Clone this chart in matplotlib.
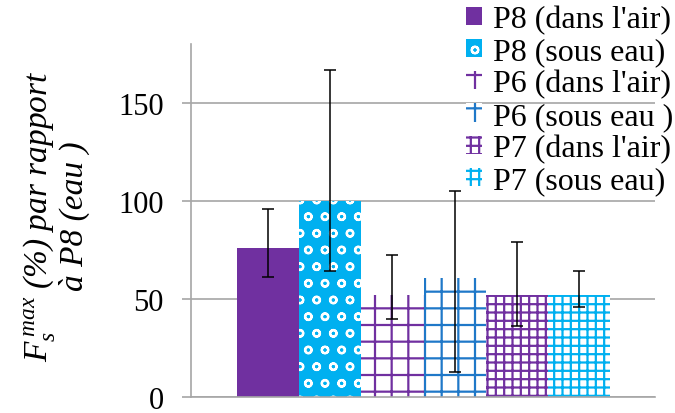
import matplotlib.pyplot as plt
import numpy as np

# ---- data ----
labels = ["P8 (dans l'air)", "P8 (sous eau)", "P6 (dans l'air)",
          "P6 (sous eau )", "P7 (dans l'air)", "P7 (sous eau)"]
values = [76, 100, 52, 60.5, 52, 52]
err_low = [14.5, 35.5, 12, 47.5, 16, 6]
err_high = [20, 67, 20.5, 44.5, 27, 12.5]

face_colors = ['#7030A0', '#00B0F0', 'white', 'white', 'white', 'white']
hatch_colors = ['#7030A0', 'white', '#7030A0', '#1F78C8', '#7030A0', '#00B0F0']
hatches = [None, 'o', '+', '+', '++', '++']

plt.rcParams['font.family'] = ['Liberation Serif', 'DejaVu Serif']
plt.rcParams['mathtext.fontset'] = 'custom'
plt.rcParams['mathtext.rm'] = 'Liberation Serif'
plt.rcParams['mathtext.it'] = 'Liberation Serif:italic'
plt.rcParams['hatch.linewidth'] = 1.6

fig = plt.figure(figsize=(6.75, 4.14), dpi=100)
ax = fig.add_axes([0.283, 0.0386, 0.687, 0.852])

x = np.arange(len(values))
for i in range(len(values)):
    ax.bar(x[i], values[i], width=1.0, color=face_colors[i], edgecolor=hatch_colors[i],
           hatch=hatches[i], linewidth=0, label=labels[i], zorder=2)

ax.errorbar(x, values, yerr=[err_low, err_high], fmt='none', ecolor='black',
            elinewidth=1.1, capsize=4.5, capthick=1.1, zorder=3)

ax.set_xlim(-1.24, 6.22)
ax.set_ylim(0, 180)
ax.set_yticks([0, 50, 100, 150])
ax.set_xticks([])
ax.grid(axis='y', color='#A6A6A6', linewidth=1.2, zorder=0)
for s in ['top', 'right']:
    ax.spines[s].set_visible(False)
ax.spines['left'].set_color('#A6A6A6')
ax.spines['bottom'].set_color('#A6A6A6')
ax.spines['left'].set_linewidth(1.2)
ax.spines['bottom'].set_linewidth(1.2)
ax.tick_params(axis='y', length=6.5, width=1.2, color='#A6A6A6', labelsize=22, pad=13)

ax.set_ylabel("$F_s^{\\,max}$ (%) par rapport\nà P8 (eau )", fontsize=24, style='italic',
              linespacing=1.05)
ax.yaxis.set_label_coords(-0.218, 0.516)

ax.legend(loc='upper right', bbox_to_anchor=(1.0, 0.99), bbox_transform=fig.transFigure,
          frameon=False, fontsize=23, handlelength=0.5, handleheight=0.5,
          handletextpad=0.35, labelspacing=0.1, borderaxespad=0.0, borderpad=0.05)

fig.savefig('out.png', dpi=100)
